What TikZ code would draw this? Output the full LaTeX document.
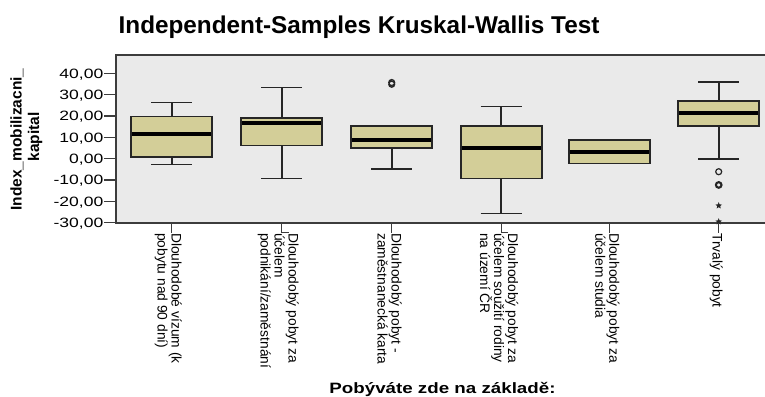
\documentclass[tikz,border=0pt]{standalone}
\usepackage{fontspec}
\setmainfont{Liberation Sans}
\usepackage{graphicx}
\usetikzlibrary{shapes.geometric}
\definecolor{plotbg}{RGB}{234,234,234}
\definecolor{boxfill}{RGB}{211,206,152}
\definecolor{framecol}{RGB}{60,60,60}
\newcommand\mybox[6]{%
  \draw[whisk] (#1,#2) -- (#1,#3) (#1,#5) -- (#1,#6)
     (#1-20.5,#2) -- (#1+20.5,#2) (#1-20.5,#6) -- (#1+20.5,#6);
  \draw[boxst] (#1-40.5,#3) rectangle (#1+40.5,#5);
  \draw[medst] (#1-39.6,#4) -- (#1+39.6,#4);
}
\begin{document}
\begin{tikzpicture}[x=1pt,y=-1pt,
  whisk/.style={draw=black!85, line width=1.6pt},
  boxst/.style={draw=black!85, fill=boxfill, line width=1.6pt},
  medst/.style={draw=black, line width=3.8pt},
  ticklab/.style={font=\fontsize{13.5}{14}\selectfont, anchor=base east, inner sep=0pt, yshift=-4.8pt},
  xlab/.style={font=\fontsize{13.8}{14}\selectfont, rotate=-90, anchor=base west, inner sep=0pt},
  axtick/.style={draw=framecol, line width=1.4pt},
  outl/.style={draw=black!85, line width=1.2pt},
  starmk/.style={star, star points=5, star point ratio=2.3, fill=black!85, inner sep=0pt, minimum size=7pt}]
\useasboundingbox (0,0) rectangle (765,396);
\clip (0,0) rectangle (765,396);
\node[font=\bfseries\fontsize{24.3}{28}\selectfont, anchor=base, inner sep=0pt] (title) at (359,33.3) {Independent-Samples Kruskal-Wallis Test};
\begin{scope}[shift={(0,158.7)}, y=2.134pt]
  \fill[plotbg] (116,-30) rectangle (780,48.6);
  \draw[draw=framecol, line width=1.6pt] (780,48.6) -- (116,48.6) -- (116,-30) -- (780,-30);
  \foreach \v [count=\i] in {-30,-20,-10,0,10,20,30,40} {
    \draw[axtick] (104,\v) -- (116,\v);
    \node[ticklab] (yt\i) at (103.5,\v) {\scalebox{1.3}[1]{\v,00}};
  }
  \mybox{171.7}{-2.8}{0.9}{11.4}{19.7}{26.4}
  \mybox{281.7}{-9.2}{6.1}{16.6}{19.2}{33.4}
  \mybox{391.7}{-4.7}{4.9}{8.7}{15.2}{15.2}
  \mybox{501.2}{-25.6}{-9.2}{4.9}{15.3}{24.4}
  \mybox{609.3}{-2.2}{-2.2}{3.0}{8.7}{8.7}
  \mybox{718.7}{-0.2}{15.3}{21.3}{27}{35.9}
  \draw[outl] (391.7,35.7) circle[radius=3pt] (391.7,34.9) circle[radius=3pt];
  \draw[outl] (718.7,-6.1) circle[radius=3pt];
  \draw[outl, line width=2.1pt] (718.7,-12.3) circle[radius=2.8pt];
  \node[starmk] (st1) at (718.7,-22) {};
  \node[starmk] (st2) at (718.7,-29.5) {};
\end{scope}
% x ticks
\draw[axtick] (171.7,222.7) -- (171.7,233);
\draw[axtick] (281.7,222.7) -- (281.7,232.3) -- (288.7,232.3);
\draw[axtick] (391.7,222.7) -- (391.7,233);
\draw[axtick] (501.2,222.7) -- (501.2,232.3) -- (508,232.3);
\draw[axtick] (609.3,222.7) -- (609.3,233);
\draw[axtick] (718.7,222.7) -- (718.7,233);
% x labels
\node[xlab] (l1a) at (171.7,233) {Dlouhodobé vízum (k};
\node[xlab] (l1b) at (157.7,233) {pobytu nad 90 dní)};
\node[xlab] (l2a) at (288.7,233) {Dlouhodobý pobyt za};
\node[xlab] (l2b) at (274.7,233) {účelem};
\node[xlab] (l2c) at (260.7,233) {podnikání/zaměstnání};
\node[xlab] (l3a) at (391.7,233) {Dlouhodobý pobyt -};
\node[xlab] (l3b) at (377.7,233) {zaměstnanecká karta};
\node[xlab] (l4a) at (508,233) {Dlouhodobý pobyt za};
\node[xlab] (l4b) at (494,233) {účelem soužití rodiny};
\node[xlab] (l4c) at (480,233) {na území ČR};
\node[xlab] (l5a) at (609.3,233) {Dlouhodobý pobyt za};
\node[xlab] (l5b) at (595.3,233) {účelem studia};
\node[xlab] (l6a) at (712.7,233) {Trvalý pobyt};
% axis titles
\node[font=\bfseries\fontsize{15.5}{18}\selectfont, rotate=90, anchor=base, inner sep=0pt] (ya1) at (21.5,139.5) {Index\_mobilizacni\_};
\node[font=\bfseries\fontsize{15.5}{18}\selectfont, rotate=90, anchor=base, inner sep=0pt] (ya2) at (39,136.7) {kapital};
\node[font=\bfseries\fontsize{15}{18}\selectfont, anchor=base, inner sep=0pt] (xa) at (442.5,393) {\scalebox{1.25}[1]{Pobýváte zde na základě:}};
\end{tikzpicture}
\end{document}
